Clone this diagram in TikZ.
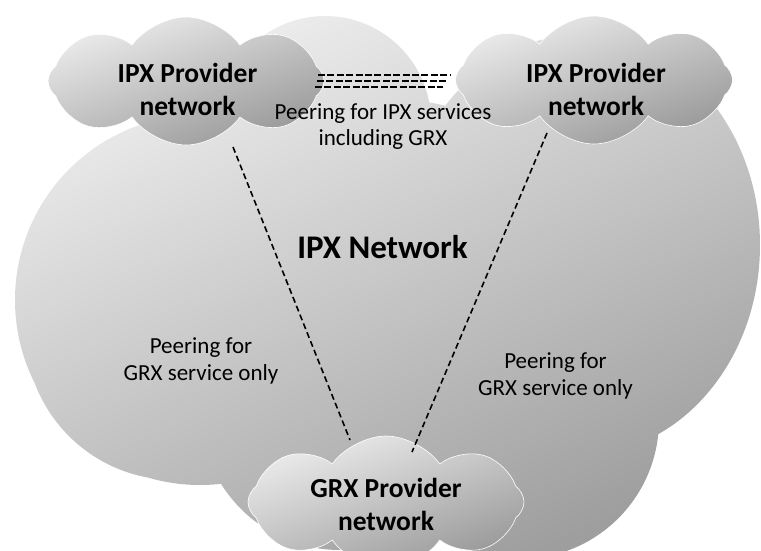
\documentclass[tikz,border=0pt]{standalone}
\usepackage{fontspec}
\setmainfont{Carlito}
\usetikzlibrary{shapes.symbols}
\definecolor{bigtop}{RGB}{238,238,238}
\definecolor{bigbot}{RGB}{158,158,158}
\definecolor{cltop}{RGB}{236,236,236}
\definecolor{clbot}{RGB}{152,152,152}
\begin{document}
\begin{tikzpicture}[x=1pt,y=-1pt,
  netcloud/.style={cloud, cloud puffs=8, cloud puff arc=110, cloud ignores aspect,
    inner sep=0pt, top color=cltop, bottom color=clbot, shading angle=20,
    draw=white, line width=0.6pt},
  cloudlabel/.style={font=\fontsize{27.5}{33}\selectfont\bfseries, align=center,
    inner sep=0pt, anchor=base},
  peerlabel/.style={font=\fontsize{23}{26.5}\selectfont, align=center,
    inner sep=0pt, anchor=base},
  peerline/.style={line width=1.6pt, dash pattern=on 6pt off 3.5pt},
  ipxline/.style={line width=2pt, dash pattern=on 7pt off 2.4pt}]
\useasboundingbox (0,0) rectangle (761,551);
\clip (0,0) rectangle (761,551);
% big IPX network cloud
\shade[top color=bigtop, bottom color=bigbot, shading angle=25]
  (325,122) circle [radius=106pt]
  (580,245) ellipse [x radius=180pt, y radius=210pt]
  (200,300) circle [radius=185pt]
  (175,330) circle [radius=150pt]
  (340,410) circle [radius=140pt]
  (520,420) circle [radius=139pt]
  (400,280) circle [radius=180pt];
% provider clouds
\node[netcloud, minimum width=276pt, minimum height=128pt] (lc) at (186,81) {};
\node[netcloud, minimum width=277pt, minimum height=128pt] (rc) at (594,80) {};
\node[netcloud, minimum width=276pt, minimum height=132pt] (bc) at (386,502) {};
% peering connectors
\draw[peerline] ([shift={(47,66)}]lc.center) -- ([shift={(-36,-62)}]bc.center);
\draw[peerline] ([shift={(-47,53)}]rc.center) -- ([shift={(26,-50)}]bc.center);
\draw[ipxline] ([shift={(132,-6)}]lc.center) -- ([shift={(-144,-5)}]rc.center);
\draw[ipxline] ([shift={(131,0)}]lc.center) -- ([shift={(-148,1)}]rc.center);
\draw[ipxline] ([shift={(129,6)}]lc.center) -- ([shift={(-151,7)}]rc.center);
% labels (anchor base = baseline of last line)
\node[cloudlabel] (lct) at (187.5,115) {IPX Provider\\network};
\node[cloudlabel] (rct) at (596,115) {IPX Provider\\network};
\node[cloudlabel] (bct) at (386,530) {GRX Provider\\network};
\node[peerlabel] (ipxt) at (383,146) {Peering for IPX services\\including GRX};
\node[font=\fontsize{33}{38}\selectfont\bfseries, inner sep=0pt, anchor=base] (net) at (382.5,258) {IPX Network};
\node[peerlabel] (lpt) at (201,380) {Peering for\\GRX service only};
\node[peerlabel] (rpt) at (555.5,395) {Peering for\\GRX service only};
\end{tikzpicture}
\end{document}
